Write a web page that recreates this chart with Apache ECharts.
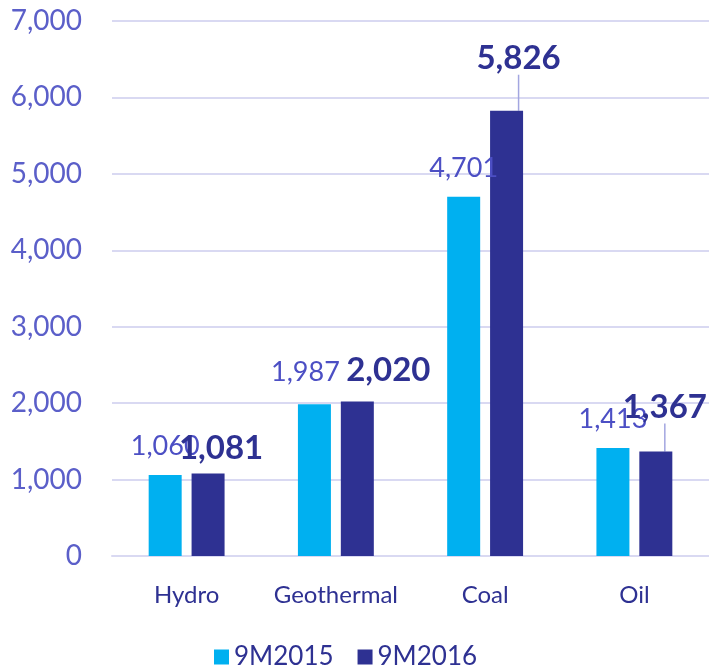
<!DOCTYPE html>
<html>
<head>
<meta charset="utf-8">
<script src="https://cdn.jsdelivr.net/npm/echarts@6/dist/echarts.min.js"></script>
<style>
  html, body { margin: 0; padding: 0; background: #fff; }
  #main { width: 709px; height: 667px; }
</style>
</head>
<body>
<div id="main"></div>
<script>
var categories = ['Hydro', 'Geothermal', 'Coal', 'Oil'];
var seriesNames = ['9M2015', '9M2016'];
var values2015 = [1060, 1987, 4701, 1413];
var values2016 = [1081, 2020, 5826, 1367];
var yTicks = [0, 1000, 2000, 3000, 4000, 5000, 6000, 7000];

// label nudges, just to look like the original
var shift2015 = [[0, 0], [-9, -3], [0, 0], [0, 0]];
var shift2016 = [[13, 0], [31, -6], [12, -27], [9, -19]];
var withLine = [false, false, true, true];

var fontName = 'Lato, "Open Sans", sans-serif';
var fmt = function (v) { return v.toLocaleString('en-US'); };

var myChart = echarts.init(document.getElementById('main'));

var option = {
    animation: false,
    textStyle: { fontFamily: fontName },
    grid: { left: 112, right: 0, top: 21, bottom: 111 },
    legend: {
        data: seriesNames,
        bottom: -8,
        left: 209,
        itemWidth: 15,
        itemHeight: 15,
        itemGap: 24,
        icon: 'rect',
        textStyle: { fontSize: 26, color: '#2e3192', fontFamily: fontName }
    },
    xAxis: {
        type: 'category',
        data: categories,
        axisLine: { lineStyle: { color: '#d9d9f2', width: 2 } },
        axisTick: { show: false },
        axisLabel: { interval: 0, fontSize: 24, color: '#2e3192', margin: 27, fontFamily: fontName }
    },
    yAxis: {
        type: 'value',
        min: yTicks[0],
        max: yTicks[yTicks.length - 1],
        interval: 1000,
        axisLine: { show: false },
        axisTick: { show: false },
        splitLine: { lineStyle: { color: '#d9d9f2', width: 2 } },
        axisLabel: {
            fontSize: 28, color: '#5b5fc9', margin: 30, fontFamily: fontName,
            formatter: function (v) { return fmt(v); }
        }
    },
    series: [
        {
            name: seriesNames[0],
            type: 'bar',
            data: values2015,
            barWidth: 33,
            barGap: '30%',
            itemStyle: { color: '#00b0f0' },
            label: {
                show: true, position: 'top', distance: 15,
                fontSize: 27, color: '#4c4fc4', fontFamily: fontName,
                formatter: function (p) { return fmt(p.value); }
            },
            labelLayout: function (p) {
                var s = shift2015[p.dataIndex];
                return { dx: s[0], dy: s[1] };
            }
        },
        {
            name: seriesNames[1],
            type: 'bar',
            data: values2016.map(function (v, i) {
                return { value: v, labelLine: { show: withLine[i] } };
            }),
            barWidth: 33,
            itemStyle: { color: '#2e3192' },
            label: {
                show: true, position: 'top', distance: 9,
                fontSize: 33, fontWeight: 'bold', color: '#2e3192', fontFamily: fontName,
                formatter: function (p) { return fmt(p.value); }
            },
            labelLine: { lineStyle: { color: '#a3a6e0', width: 1.5 } },
            labelLayout: function (p) {
                var s = shift2016[p.dataIndex];
                var r = p.rect, lr = p.labelRect;
                // straight leader from the bar top towards the label
                var x0 = r.x + r.width / 2, y0 = r.y;
                var x1 = lr.x + lr.width / 2 + s[0], y1 = lr.y + lr.height + s[1] + 3;
                return {
                    dx: s[0], dy: s[1],
                    labelLinePoints: [[x0, y0], [(x0 + x1) / 2, (y0 + y1) / 2], [x1, y1]]
                };
            }
        }
    ]
};

myChart.setOption(option);
</script>
</body>
</html>
